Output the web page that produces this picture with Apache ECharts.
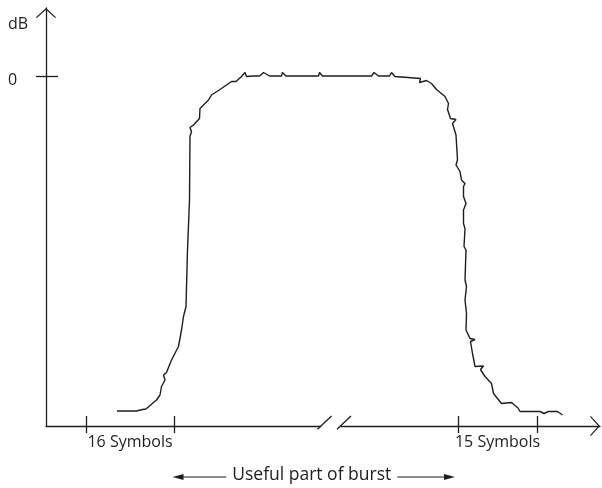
<!DOCTYPE html>
<html>
<head>
<meta charset="utf-8">
<script src="https://cdn.jsdelivr.net/npm/echarts@6/dist/echarts.min.js"></script>
<style>
  html, body { margin: 0; padding: 0; background: #fff; }
  #chart { width: 602px; height: 488px; }
</style>
</head>
<body>
<div id="chart"></div>
<script>
// burst power envelope (time in arbitrary units, level in dB)
const timeX = [
  14.2, 18.1, 19.3, 19.6, 20.0, 21.5, 22.1, 22.8, 23.1, 23.8, 24.0, 23.5, 24.1, 25.1,
  26.5, 27.1, 27.5, 28.0, 28.3, 28.7, 28.8, 29.1, 28.8, 29.5, 30.7, 30.8, 32.5, 33.1,
  34.8, 37.1, 38.0, 39.1, 39.8, 40.1, 41.5, 42.7, 43.5, 44.7, 47.1, 47.3, 48.0, 54.5,
  54.7, 55.3, 65.1, 65.6, 66.5, 68.7, 69.1, 69.8, 74.9, 74.7, 76.1, 77.1, 78.1, 79.8,
  80.5, 80.3, 80.9, 82.0, 81.3, 82.0, 82.3, 82.0, 82.8, 83.1, 83.8, 83.5, 83.5, 84.0,
  83.5, 83.5, 83.8, 83.6, 84.0, 83.8, 84.1, 83.8, 84.1, 84.0, 84.8, 85.8, 84.9, 85.3,
  85.8, 87.5, 86.9, 87.8, 89.1, 89.5, 91.1, 93.1, 93.8, 94.4, 94.0, 94.8, 96.8, 98.8,
  99.6, 100.5, 102.3, 103.3
];
const levelDb = [
  -67.0, -67.0, -66.7, -67.1, -66.6, -65.3, -64.8, -63.8, -62.1, -60.8, -60.5, -59.8, -59.3, -56.8,
  -54.1, -50.8, -48.1, -46.1, -34.8, -24.8, -12.1, -11.1, -10.3, -9.8, -8.5, -6.5, -4.8, -3.8,
  -2.7, -1.1, -1.1, -0.1, 0.7, -0.1, 0, 0, 0.7, 0, 0, 0.7, 0, 0,
  0.7, 0, 0, 0.7, 0, 0, 0.7, -0.1, -0.5, -1.3, -0.9, -1.5, -2.7, -4.1,
  -5.5, -6.7, -8.5, -8.7, -9.5, -11.8, -16.8, -17.8, -19.1, -20.8, -21.5, -22.1, -24.1, -25.5,
  -26.8, -29.5, -30.5, -34.1, -34.8, -40.8, -42.1, -44.8, -47.5, -50.8, -52.5, -52.7, -53.1, -55.5,
  -58.1, -58.0, -58.7, -60.1, -61.5, -63.5, -65.5, -65.3, -65.9, -66.4, -66.8, -67.1, -67.1, -67.1,
  -67.5, -67.1, -67.1, -67.8
];

const tickX = [8, 25.6, 82.4, 98.2];
const symbolLabelX = [16.8, 90.3];
const symbolLabels = ['16 Symbols', '15 Symbols'];
const yTickVals = [0];
const yLabelVals = [-0.8, 10.4];
const yLabels = ['0', 'dB'];
const breakRange = [55.0, 58.9];
const usefulRange = [25.3, 81.8];
const usefulLabel = 'Useful part of burst';

const X_MIN = 0, X_MAX = 110.8;
const Y_MIN = -70, Y_MAX = 13.6;
const INK = '#1e1e1e';
const FONT = '"Open Sans", "Noto Sans", sans-serif';
const CHEVRON = 'path://M10 0L20 9.2L19.2 10L10 1.7L0.8 10L0 9.2Z';

const chart = echarts.init(document.getElementById('chart'));

function renderBreak(params, api) {
  const a = api.coord([api.value(0), Y_MIN]);
  const b = api.coord([api.value(1), Y_MIN]);
  const slash = (p) => ({
    type: 'line',
    shape: { x1: p[0] - 3.5, y1: p[1] + 3.3, x2: p[0] + 10.5, y2: p[1] - 10 },
    style: { stroke: INK, lineWidth: 1.3 }
  });
  return {
    type: 'group',
    children: [
      { type: 'rect', shape: { x: a[0], y: a[1] - 2, width: b[0] - a[0], height: 4 }, style: { fill: '#fff' } },
      slash(a),
      slash(b)
    ]
  };
}

function renderSpan(params, api) {
  const a = api.coord([api.value(0), Y_MIN]);
  const b = api.coord([api.value(1), Y_MIN]);
  const y = a[1] + 51;
  return {
    type: 'group',
    children: [
      { type: 'line', shape: { x1: a[0] + 6, y1: y, x2: b[0] - 6, y2: y }, style: { stroke: INK, lineWidth: 1.2 } },
      { type: 'polygon', shape: { points: [[a[0], y], [a[0] + 11, y - 3], [a[0] + 11, y + 3]] }, style: { fill: INK } },
      { type: 'polygon', shape: { points: [[b[0], y], [b[0] - 11, y - 3], [b[0] - 11, y + 3]] }, style: { fill: INK } },
      {
        type: 'text', x: (a[0] + b[0]) / 2 - 2, y: y - 1.5, z2: 10,
        style: {
          text: usefulLabel, align: 'center', verticalAlign: 'middle',
          font: '17.5px ' + FONT, fill: INK, backgroundColor: '#fff', padding: [0, 6]
        }
      }
    ]
  };
}

const axisBase = { min: X_MIN, max: X_MAX, type: 'value', splitLine: { show: false } };

chart.setOption({
  animation: false,
  backgroundColor: '#fff',
  grid: { left: 46, right: 2, top: 8, bottom: 62, containLabel: false },
  xAxis: [
    Object.assign({}, axisBase, {
      position: 'bottom',
      axisLine: {
        onZero: false,
        lineStyle: { color: INK, width: 1.3 },
        symbol: ['none', CHEVRON], symbolSize: [20, 10], symbolOffset: [0, -5]
      },
      axisTick: { customValues: tickX, length: 7, lineStyle: { color: INK, width: 1.3 } },
      axisLabel: {
        customValues: symbolLabelX,
        formatter: (v) => symbolLabels[symbolLabelX.indexOf(v)] || '',
        margin: 8, color: INK, fontFamily: FONT, fontSize: 16
      }
    }),
    Object.assign({}, axisBase, {
      position: 'bottom',
      axisLine: { show: false, onZero: false },
      axisTick: { customValues: tickX, inside: true, length: 10, lineStyle: { color: INK, width: 1.3 } },
      axisLabel: { show: false }
    })
  ],
  yAxis: [
    {
      type: 'value', min: Y_MIN, max: Y_MAX, position: 'left', splitLine: { show: false },
      axisLine: {
        show: true, onZero: false, lineStyle: { color: INK, width: 1.3 },
        symbol: ['none', CHEVRON], symbolSize: [20, 10], symbolOffset: [0, -5]
      },
      axisTick: { customValues: yTickVals, length: 10, lineStyle: { color: INK, width: 1.3 } },
      axisLabel: {
        customValues: yLabelVals,
        formatter: (v) => yLabels[yLabelVals.indexOf(v)] || '',
        align: 'left', margin: 38, color: INK, fontFamily: FONT, fontSize: 16
      }
    },
    {
      type: 'value', min: Y_MIN, max: Y_MAX, position: 'left', splitLine: { show: false },
      axisLine: { show: false, onZero: false },
      axisTick: { customValues: yTickVals, inside: true, length: 12, lineStyle: { color: INK, width: 1.3 } },
      axisLabel: { show: false }
    }
  ],
  series: [
    {
      type: 'line',
      data: timeX.map((x, i) => [x, levelDb[i]]),
      showSymbol: false,
      lineStyle: { color: INK, width: 1.4 },
      silent: true
    },
    {
      type: 'custom',
      renderItem: renderBreak,
      data: [breakRange],
      silent: true
    },
    {
      type: 'custom',
      renderItem: renderSpan,
      data: [usefulRange],
      silent: true,
      clip: false
    }
  ]
});

window.addEventListener('resize', () => chart.resize());
</script>
</body>
</html>
